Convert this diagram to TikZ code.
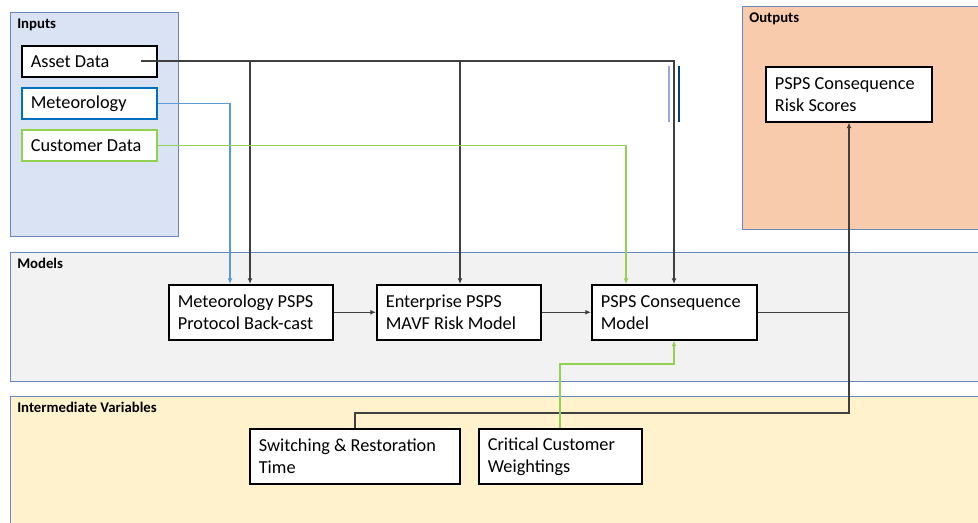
\documentclass[tikz,border=0pt]{standalone}
\usepackage{fontspec}
\setmainfont{Carlito}
\usetikzlibrary{arrows.meta}

\definecolor{inbg}{HTML}{DAE3F3}
\definecolor{outbg}{HTML}{F8CBAD}
\definecolor{modbg}{HTML}{F2F2F2}
\definecolor{varbg}{HTML}{FFF2CC}
\definecolor{panelline}{HTML}{6A86BE}
\definecolor{metblue}{HTML}{0070C0}
\definecolor{metline}{HTML}{5B9BD5}
\definecolor{custgreen}{HTML}{92D050}

\tikzset{
    panel/.style={draw=panelline, line width=0.7pt},
    paneltitle/.style={anchor=north west, inner sep=0pt, font=\fontsize{10.5}{12}\selectfont\bfseries},
    blk/.style={draw, line width=1.2pt, fill=white, anchor=north west, align=flush left,
        inner xsep=6.4pt, inner ysep=0pt, font=\fontsize{13}{15.6}\selectfont},
    smallblk/.style={blk, text width=83.2pt, minimum height=22pt},
    bigblk/.style={blk, minimum height=39pt},
    link/.style={draw=black!75, line width=0.8pt},
    colink/.style={line width=1pt}
}

\begin{document}
\begin{tikzpicture}[x={(0.025cm,0)}, y={(0,-0.025cm)}, >={Latex[length=4pt,width=3.5pt]}]
    \useasboundingbox (0,0) rectangle (978,523);

    % panels
    \draw[panel, fill=inbg] (10,12) rectangle (178,236);
    \draw[panel, fill=outbg] (742,6) rectangle (990,229);
    \draw[panel, fill=modbg] (10,252) rectangle (990,381);
    \draw[panel, fill=varbg] (10,396) rectangle (990,540);

    \node[paneltitle] (tin) at (17,19) {Inputs};
    \node[paneltitle] (tout) at (749,13) {Outputs};
    \node[paneltitle] (tmod) at (17,258) {Models};
    \node[paneltitle] (tvar) at (17,402) {Intermediate Variables};

    % inputs
    \node[smallblk] (asset) at (21,45) {Asset Data};
    \node[smallblk, draw=metblue] (met) at (21,87) {Meteorology};
    \node[smallblk, draw=custgreen] (cust) at (21,129) {Customer Data};

    % models
    \node[bigblk, text width=103.85pt] (backcast) at (168,284) {Meteorology PSPS\\Protocol Back-cast};
    \node[bigblk, text width=103.85pt] (mavf) at (376,284) {Enterprise PSPS\\MAVF Risk Model};
    \node[bigblk, text width=104.6pt] (conseq) at (591,284) {PSPS Consequence\\Model};

    % outputs
    \node[bigblk, text width=105.3pt] (scores) at (765,66) {PSPS Consequence\\Risk Scores};

    % intermediate variables
    \node[bigblk, text width=136.6pt] (switch) at (249,428) {Switching \& Restoration\\Time};
    \node[bigblk, text width=103.1pt] (crit) at (478,428) {Critical Customer\\Weightings};

    \coordinate (assetout) at (141,61);

    % connectors
    \draw[link, ->] (assetout) -| (backcast.north -| 250,0);
    \draw[link, ->] (assetout) -| (mavf.north -| 460,0);
    \draw[link, ->] (assetout) -| (conseq.north -| 674,0);
    \draw[metline, colink, ->] (met.east) -| (backcast.north -| 230,0);
    \draw[custgreen, colink, ->] (cust.east) -| (conseq.north -| 626,0);
    \draw[link, ->] (backcast) -- (mavf);
    \draw[link, ->] (mavf) -- (conseq);
    \draw[link, ->] (conseq.east) -| (scores.south -| 849,0);
    \draw[link] (switch.north -| 355,0) |- (849,413) -- (849,311);
    \draw[custgreen, colink, ->] (crit.north -| 560,0) |- (674,364) -- (conseq.south -| 674,0);

    % crossing marks
    \draw[panelline!70, line width=0.8pt] (669,66) -- (669,122);
    \draw[metblue!60!black, line width=0.8pt] (679,66) -- (679,122);
\end{tikzpicture}
\end{document}
